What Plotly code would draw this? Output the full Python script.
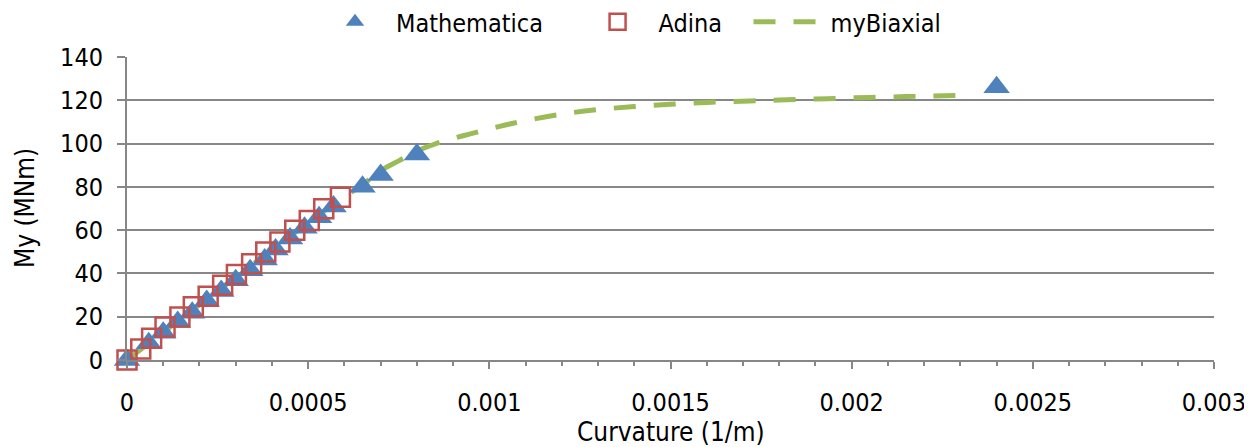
import plotly.graph_objects as go

# Mathematica results (triangles)
math_curv = [0, 0.00006, 0.0001, 0.00014, 0.00018, 0.00022, 0.00026, 0.0003, 0.00034,
             0.00038, 0.00041, 0.00045, 0.00049, 0.00053, 0.00057, 0.00065, 0.0007,
             0.0008, 0.0024]
math_my = [0, 7.7, 12.6, 17.6, 21.8, 27.3, 31.9, 36.8, 41.5, 46.4, 51.0, 56.1, 61.1,
           66.0, 70.9, 80.1, 85.5, 95.0, 126.0]

# Adina results (open squares)
adina_curv = [0, 0.000038, 0.000068, 0.000105, 0.000146, 0.000183, 0.000224, 0.000264,
              0.000302, 0.000344, 0.000383, 0.000422, 0.000463, 0.000503, 0.000543,
              0.000589]
adina_my = [0, 5.1, 10.0, 15.3, 19.9, 24.6, 29.5, 34.5, 39.5, 44.5, 49.9, 54.5, 59.9,
            64.5, 69.9, 75.2]

# myBiaxial curve (dashed)
bi_curv = [0, 0.00057, 0.00065, 0.0007, 0.00075, 0.0008, 0.00085, 0.0009, 0.00095,
           0.001, 0.00105, 0.0011, 0.0012, 0.0013, 0.0014, 0.0015, 0.0016, 0.0017,
           0.0018, 0.0019, 0.002, 0.0021, 0.0022, 0.0023]
bi_my = [0, 72.0, 81.0, 87.5, 92.0, 96.5, 99.8, 102.4, 104.6, 106.8, 108.8, 110.6,
         113.6, 115.7, 117.1, 118.2, 119.0, 119.6, 120.1, 120.6, 121.1, 121.5, 121.9,
         122.3]

x_ticks = [0, 0.0005, 0.001, 0.0015, 0.002, 0.0025, 0.003]
x_ticklabels = ["0", "0.0005", "0.001", "0.0015", "0.002", "0.0025", "0.003"]
y_ticks = [0, 20, 40, 60, 80, 100, 120, 140]

FONT = "DejaVu Sans Condensed, DejaVu Sans, sans-serif"
GRID = "#878787"
NB = "\u00a0"

# page body has an 8px default margin; figure is sized/offset to compensate
W, H = 1244, 439

fig = go.Figure()
fig.add_trace(go.Scatter(
    x=bi_curv, y=bi_my, mode="lines", name="myBiaxial", legendrank=3,
    line=dict(color="#9BBB59", width=5, dash="22px,18px", shape="spline"),
))
fig.add_trace(go.Scatter(
    x=math_curv, y=math_my, mode="markers", name="Mathematica" + NB * 4, legendrank=1,
    cliponaxis=False,
    marker=dict(symbol="triangle-up", size=23, color="#4F81BD",
                line=dict(width=0)),
))
fig.add_trace(go.Scatter(
    x=adina_curv, y=adina_my, mode="markers", name="Adina" + NB * 3, legendrank=2,
    cliponaxis=False,
    marker=dict(symbol="square-open", size=19, color="#C0504D",
                line=dict(width=2.5, color="#C0504D")),
))

fig.update_layout(
    width=W, height=H,
    margin=dict(l=119, r=38, t=49, b=87, autoexpand=False),
    paper_bgcolor="white", plot_bgcolor="white",
    font=dict(family=FONT, size=25, color="#000000"),
    legend=dict(orientation="h", xref="container", yref="container",
                x=306 / W, xanchor="left", y=1 - 14 / H, yanchor="middle",
                itemwidth=72, font=dict(size=25), bgcolor="rgba(0,0,0,0)"),
    xaxis=dict(
        range=[0, 0.003], tickvals=x_ticks, ticktext=x_ticklabels, automargin=False,
        showgrid=False, zeroline=False, showline=True, linecolor=GRID, linewidth=2,
        ticks="outside", ticklen=7, tickwidth=2, tickcolor=GRID,
        ticklabelstandoff=12,
        minor=dict(dtick=0.0001, tick0=0, ticks="outside", ticklen=4,
                   tickwidth=2, tickcolor=GRID, showgrid=False),
    ),
    yaxis=dict(
        range=[0, 140], tickvals=y_ticks, automargin=False,
        showgrid=True, gridcolor=GRID, gridwidth=2,
        zeroline=False, showline=True, linecolor=GRID, linewidth=2,
        ticks="outside", ticklen=8, tickwidth=2, tickcolor=GRID,
        ticklabelstandoff=9,
    ),
    annotations=[
        dict(text="Curvature (1/m)", xref="paper", yref="paper",
             x=(671 - 127) / 1087, y=(360 - 432) / 303, xanchor="center",
             yanchor="middle", showarrow=False, font=dict(size=26)),
        dict(text="My (MNm)", xref="paper", yref="paper", textangle=-90,
             x=(25 - 127) / 1087, y=(360 - 208) / 303, xanchor="center",
             yanchor="middle", showarrow=False, font=dict(size=26)),
    ],
)

fig.write_html("out.html")
